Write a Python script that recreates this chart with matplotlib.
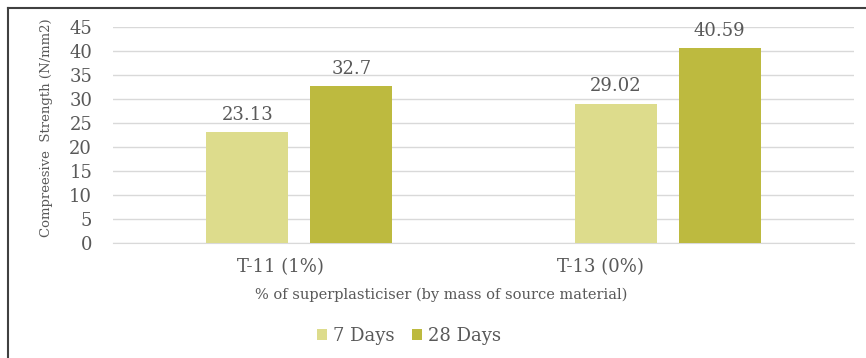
import matplotlib.pyplot as plt
import matplotlib.transforms as mtransforms
import numpy as np

# --- chart data ---
categories = ["T-11 (1%)", "T-13 (0%)"]
series_names = ["7 Days", "28 Days"]
days_7 = [23.13, 29.02]
days_28 = [32.7, 40.59]
label_7 = ["23.13", "29.02"]
label_28 = ["32.7", "40.59"]
y_ticks = [0, 5, 10, 15, 20, 25, 30, 35, 40, 45]

plt.rcParams['font.family'] = ['DejaVu Serif']
text_col = '#595959'
light_col = '#DDDC8C'
dark_col = '#BDBA3F'

fig = plt.figure(figsize=(8.66, 3.58), dpi=100)
W, H = 866, 358

# outer chart frame (top and left edges only are visible)
fig.add_artist(plt.Line2D([8 / W, 8 / W], [0, 1 - 8 / H], color='#404040', lw=1.5))
fig.add_artist(plt.Line2D([8 / W, 1], [1 - 8 / H, 1 - 8 / H], color='#404040', lw=1.5))

# plot area: x 113..854 px, y 27..243 px
ax = fig.add_axes([113 / W, 1 - 243 / H, (854 - 113) / W, (243 - 27) / H])

x = np.arange(len(categories))
bw = 0.2225
off = 0.141
b1 = ax.bar(x - off, days_7, bw, color=light_col, label=series_names[0], zorder=3)
b2 = ax.bar(x + off, days_28, bw, color=dark_col, label=series_names[1], zorder=3)

for bars, labs in [(b1, label_7), (b2, label_28)]:
    for rect, lab in zip(bars, labs):
        ax.annotate(lab, (rect.get_x() + rect.get_width() / 2, rect.get_height()),
                    xytext=(0, 6), textcoords='offset points', ha='center', va='bottom',
                    fontsize=13, color=text_col)

ax.set_ylim(0, 45)
ax.set_xlim(-0.506, 1.506)
ax.set_yticks(y_ticks)
ax.yaxis.grid(True, color='#D9D9D9', lw=1, zorder=0)
ax.set_xticks(x)
ax.set_xticklabels(categories)
ax.tick_params(axis='both', length=0, labelsize=13, colors=text_col)
ax.tick_params(axis='x', pad=11)
ax.tick_params(axis='y', pad=15)
for s in ['top', 'right', 'left']:
    ax.spines[s].set_visible(False)
ax.spines['bottom'].set_color('#D9D9D9')

# category labels sit a little left of the bar groups in the original
for lbl, dx in zip(ax.get_xticklabels(), [-19, -67]):
    lbl.set_transform(lbl.get_transform() + mtransforms.ScaledTranslation(dx / 100, 0, fig.dpi_scale_trans))

ax.set_ylabel("Compreesive  Strength (N/mm2)", fontsize=9.5, color=text_col)
ax.yaxis.set_label_coords(-60 / 741, 0.532)
ax.set_xlabel("% of superplasticiser (by mass of source material)", fontsize=10.5, color=text_col)
ax.xaxis.set_label_coords(0.443, -45 / 216)

fig.legend(handles=[b1, b2], labels=series_names, loc='center', bbox_to_anchor=(409 / W, 1 - 336 / H),
           ncol=2, frameon=False, fontsize=13, labelcolor=text_col, handlelength=0.55,
           handleheight=0.55, handletextpad=0.3, columnspacing=1.0)

fig.savefig("out.png", dpi=100)
